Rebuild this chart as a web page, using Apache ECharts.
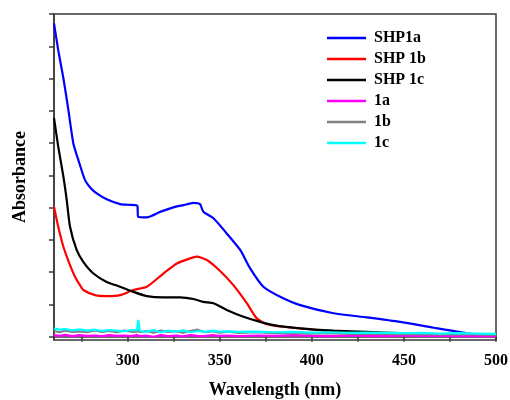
<!DOCTYPE html>
<html>
<head>
<meta charset="utf-8">
<script src="https://cdn.jsdelivr.net/npm/echarts@6/dist/echarts.min.js"></script>
<style>html,body{margin:0;padding:0;background:#fff}#c{width:510px;height:400px}</style>
</head>
<body>
<div id="c"></div>
<script>
// ---- Data ----
const seriesNames = ['SHP1a', 'SHP 1b', 'SHP 1c', '1a', '1b', '1c'];
const xTickValues = [275, 300, 325, 350, 375, 400, 425, 450, 475, 500];
const xLabelValues = [300, 350, 400, 450, 500];
const yTickValues = [0, 1, 2, 3, 4, 5, 6, 7, 8, 9, 10];

const shp1aWl  = [260, 262.3, 265.1, 267.8, 270.5, 273.2, 276.8, 280, 283.2, 288.6, 295.9, 300, 304.0, 305.3, 305.7, 310.4, 317.6, 324.8, 330.3, 335.7, 339.3, 341.1, 346.6, 353.8, 361.1, 366.5, 373.7, 382.8, 393.7, 411.8, 429.9, 448.0, 466.1, 484.2, 500];
const shp1aAbs = [9.71, 8.88, 8.01, 7.03, 5.99, 5.48, 4.86, 4.60, 4.44, 4.26, 4.11, 4.09, 4.08, 4.06, 3.72, 3.70, 3.87, 4.01, 4.08, 4.15, 4.11, 3.87, 3.67, 3.20, 2.69, 2.12, 1.55, 1.24, 0.98, 0.73, 0.60, 0.46, 0.28, 0.11, 0.02];

const shp1bWl  = [260, 262.3, 265.1, 268.7, 271.4, 274.1, 275.9, 282.3, 288.6, 295.9, 303.1, 310.4, 319.4, 326.7, 333.9, 337.5, 343.0, 350.2, 357.4, 364.7, 370.1, 375.6, 384.6, 402.7, 420.8, 438.9, 457.0, 484.2, 500];
const shp1bAbs = [4.03, 3.41, 2.79, 2.22, 1.86, 1.60, 1.45, 1.29, 1.26, 1.29, 1.45, 1.55, 1.96, 2.27, 2.43, 2.48, 2.38, 2.04, 1.60, 1.04, 0.57, 0.39, 0.31, 0.21, 0.15, 0.11, 0.08, 0.05, 0.02];

const shp1cWl  = [260, 262.3, 265.1, 266.9, 268.7, 272.3, 275.9, 281.4, 288.6, 295.9, 303.1, 310.4, 319.4, 328.5, 335.7, 341.1, 346.6, 353.8, 362.9, 371.9, 379.2, 393.7, 411.8, 429.9, 448.0, 466.1, 480.6, 500];
const shp1cAbs = [6.78, 5.89, 4.96, 4.24, 3.41, 2.69, 2.32, 1.96, 1.70, 1.55, 1.39, 1.26, 1.22, 1.22, 1.17, 1.08, 1.04, 0.83, 0.62, 0.46, 0.36, 0.26, 0.19, 0.15, 0.11, 0.07, 0.05, 0.03];

const baseWl = [260, 263, 266, 270, 274, 278, 282, 286, 290, 294, 298, 302, 305, 305.8, 306.6, 310, 314, 318, 322, 326, 330, 334, 338, 342, 346, 350, 355, 360, 370, 380, 390, 400, 410, 420, 430, 440, 450, 460, 470, 480, 490, 500];
const abs1a = [0.05, 0.03, 0.06, 0.02, 0.05, 0.03, 0.04, 0.02, 0.05, 0.03, 0.04, 0.02, 0.05, 0.06, 0.02, 0.04, 0.00, 0.05, 0.02, 0.04, 0.01, 0.05, 0.03, 0.02, 0.05, 0.03, 0.04, 0.02, 0.04, 0.03, 0.05, 0.03, 0.02, 0.04, 0.03, 0.02, 0.04, 0.03, 0.03, 0.02, 0.03, 0.02];
const abs1b = [0.18, 0.14, 0.19, 0.15, 0.17, 0.14, 0.20, 0.15, 0.18, 0.14, 0.19, 0.16, 0.15, 0.22, 0.14, 0.18, 0.13, 0.19, 0.15, 0.17, 0.13, 0.18, 0.22, 0.14, 0.17, 0.13, 0.16, 0.12, 0.14, 0.11, 0.12, 0.10, 0.11, 0.09, 0.10, 0.08, 0.09, 0.07, 0.08, 0.07, 0.07, 0.06];
const abs1c = [0.26, 0.22, 0.24, 0.20, 0.23, 0.19, 0.22, 0.18, 0.21, 0.19, 0.17, 0.21, 0.20, 0.52, 0.18, 0.15, 0.21, 0.14, 0.19, 0.16, 0.20, 0.14, 0.18, 0.15, 0.19, 0.16, 0.17, 0.15, 0.16, 0.14, 0.15, 0.13, 0.14, 0.12, 0.13, 0.12, 0.11, 0.12, 0.10, 0.11, 0.10, 0.09];

const colors = ['#0000ff', '#ff0000', '#000000', '#ff00ff', '#808080', '#00ffff'];

function zip(xs, ys) { return xs.map((x, i) => [x, ys[i]]); }
const seriesData = [
  zip(shp1aWl, shp1aAbs),
  zip(shp1bWl, shp1bAbs),
  zip(shp1cWl, shp1cAbs),
  zip(baseWl, abs1a),
  zip(baseWl, abs1b),
  zip(baseWl, abs1c)
];

const FONT = '"Liberation Serif", "Times New Roman", serif';
const axisColor = '#3a3a3a';

const chart = echarts.init(document.getElementById('c'), null, { renderer: 'canvas' });
chart.setOption({
  animation: false,
  color: colors,
  grid: { left: 54, right: 14, top: 14, bottom: 60, outerBoundsMode: 'none', containLabel: false, show: true, borderColor: axisColor, borderWidth: 1.5, backgroundColor: 'transparent' },
  legend: {
    orient: 'vertical', left: 327, top: 30, padding: 0, itemWidth: 39, itemHeight: 12, itemGap: 5,
    icon: 'path://M0,5 L40,5 L40,7.4 L0,7.4 Z',
    textStyle: { fontFamily: FONT, fontWeight: 'bold', fontSize: 16, color: '#000', padding: [0, 0, 0, 3] },
    data: seriesNames
  },
  xAxis: {
    type: 'value', min: 260, max: 500,
    name: 'Wavelength (nm)', nameLocation: 'middle', nameGap: 41,
    nameTextStyle: { fontFamily: FONT, fontWeight: 'bold', fontSize: 18, color: '#000' },
    axisLine: { show: true, lineStyle: { color: axisColor, width: 1.5 } },
    axisTick: { show: true, inside: false, length: 5, customValues: xTickValues, lineStyle: { color: axisColor, width: 1.5 } },
    axisLabel: { show: true, margin: 13, customValues: xLabelValues, fontFamily: FONT, fontWeight: 'bold', fontSize: 16, color: '#000' },
    splitLine: { show: false }
  },
  yAxis: {
    type: 'value', min: -0.1, max: 10,
    name: 'Absorbance', nameLocation: 'middle', nameGap: 25,
    nameTextStyle: { fontFamily: FONT, fontWeight: 'bold', fontSize: 18, color: '#000' },
    axisLine: { show: true, lineStyle: { color: axisColor, width: 1.5 } },
    axisTick: { show: true, inside: false, length: 5, customValues: yTickValues, lineStyle: { color: axisColor, width: 1.5 } },
    axisLabel: { show: false },
    splitLine: { show: false }
  },
  series: seriesNames.map((n, i) => ({
    name: n, type: 'line', data: seriesData[i], showSymbol: false, symbol: 'none',
    smooth: i < 3 ? 0.2 : false,
    lineStyle: { width: 2.2, color: colors[i] }, itemStyle: { color: colors[i] }, z: 2 + i
  }))
});
</script>
</body>
</html>
